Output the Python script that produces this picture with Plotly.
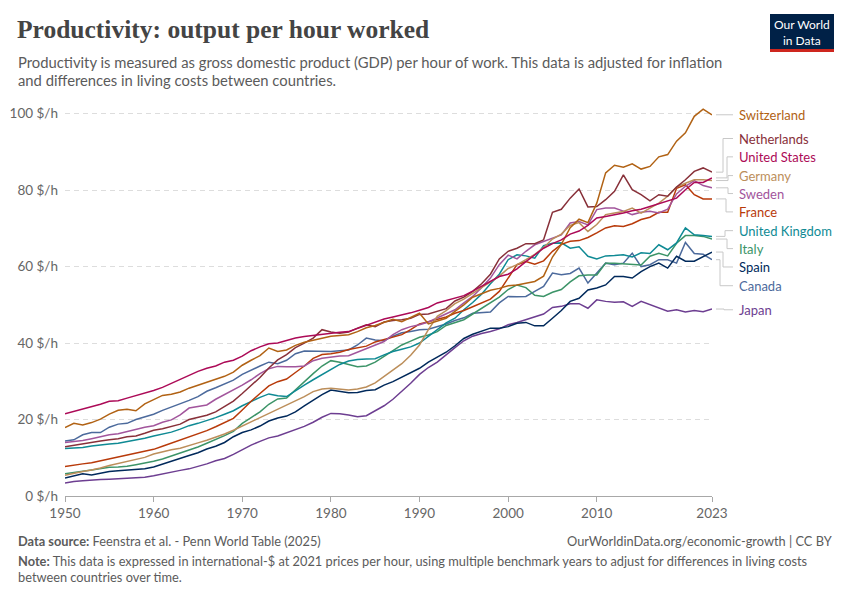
import plotly.graph_objects as go

years = list(range(1950, 2024))

countries = ["Switzerland", "Netherlands", "United States", "Germany", "Sweden", "France",
             "United Kingdom", "Italy", "Spain", "Canada", "Japan"]

colors = {
    "Switzerland": "#B16214",
    "Netherlands": "#883039",
    "United States": "#AC0A57",
    "Germany": "#BC8E5A",
    "Sweden": "#A2559C",
    "France": "#B83A0A",
    "United Kingdom": "#0F8A94",
    "Italy": "#3C9468",
    "Spain": "#00295B",
    "Canada": "#4C6A9C",
    "Japan": "#6D3E91",
}

switzerland = [17.9, 19.0, 18.6, 19.2, 20.1, 21.4, 22.4, 22.7, 22.3, 24.1,
               25.2, 26.3, 26.6, 27.2, 28.2, 29.0, 29.6, 30.4, 31.3, 32.4,
               34.2, 35.5, 36.7, 38.7, 37.8, 38.2, 39.4, 40.2, 40.8, 41.3,
               41.8, 42.0, 42.2, 43.0, 44.0, 44.6, 45.5, 46.2, 45.6, 46.8,
               47.8, 45.0, 45.8, 46.5, 48.3, 50.0, 52.0, 53.0, 53.8, 54.3,
               55.0, 55.2, 55.6, 56.1, 57.5, 62.5, 65.8, 70.2, 72.4, 71.5,
               76.6, 84.5, 86.5, 86.0, 86.9, 85.5, 86.2, 88.7, 89.3, 92.8,
               95.0, 99.3, 101.2, 99.7]

netherlands = [12.9, 13.3, 13.6, 14.0, 14.4, 14.7, 15.0, 15.5, 15.7, 16.4,
               17.2, 17.6, 18.2, 18.8, 20.0, 20.6, 21.1, 22.0, 23.4, 24.8,
               26.8, 29.0, 31.0, 33.5, 35.6, 37.0, 38.8, 40.0, 41.3, 43.5,
               42.9, 42.6, 42.9, 43.9, 44.8, 44.3, 45.5, 45.9, 46.1, 46.5,
               47.5, 47.6, 48.3, 49.0, 51.0, 52.0, 53.5, 55.5, 58.0, 62.0,
               64.0, 64.8, 66.0, 66.0, 67.0, 74.2, 75.0, 77.9, 80.3, 75.6,
               75.7, 77.5, 79.7, 84.0, 80.1, 78.8, 77.2, 78.8, 78.4, 80.8,
               82.7, 84.9, 85.8, 84.7]

united_states = [21.5, 22.1, 22.7, 23.5, 24.0, 24.8, 24.9, 25.6, 26.2, 27.0,
                 27.6, 28.4, 29.5, 30.4, 31.5, 32.6, 33.4, 34.0, 35.0, 35.5,
                 36.6, 38.0, 39.0, 39.8, 40.0, 40.7, 41.3, 41.7, 42.0, 42.3,
                 42.6, 42.8, 43.0, 43.8, 44.8, 45.6, 46.3, 46.8, 47.3, 47.9,
                 48.6, 49.3, 50.5, 51.1, 51.6, 52.4, 53.6, 54.8, 56.0, 57.4,
                 58.0, 59.4, 61.3, 63.0, 64.8, 66.0, 67.0, 68.5, 69.3, 70.8,
                 72.7, 73.1, 73.5, 74.0, 74.6, 75.0, 75.7, 76.4, 77.2, 77.9,
                 80.1, 82.0, 82.0, 83.2]

germany = [5.4, 6.0, 6.4, 6.8, 7.3, 8.0, 8.5, 9.0, 9.5, 10.1,
           11.0, 11.6, 12.1, 12.5, 13.3, 13.9, 14.6, 15.3, 16.2, 17.2,
           18.3, 19.3, 20.5, 21.6, 22.6, 23.6, 24.9, 26.0, 27.3, 28.0,
           28.2, 28.0, 27.7, 28.0, 28.5, 29.6, 31.2, 32.8, 34.6, 36.8,
           39.5, 43.5, 47.0, 48.5, 50.3, 51.5, 53.0, 54.4, 56.0, 57.5,
           59.5, 60.5, 61.8, 63.2, 65.0, 67.2, 68.5, 70.8, 71.5, 69.2,
           71.0, 73.6, 74.0, 74.4, 75.3, 74.0, 75.3, 76.6, 78.4, 80.8,
           81.8, 82.7, 82.7, 82.5]

sweden = [14.0, 14.2, 14.5, 15.0, 15.5, 16.0, 16.3, 16.9, 17.3, 18.0,
          18.4, 19.3, 19.9, 21.2, 23.0, 23.5, 23.8, 25.3, 26.5, 27.6,
          29.0, 30.4, 32.0, 33.3, 33.9, 33.8, 33.8, 34.0, 35.4, 36.0,
          36.3, 36.6, 36.7, 37.6, 38.5, 39.3, 40.4, 42.2, 43.5, 44.3,
          44.8, 45.5, 46.5, 47.5, 48.7, 50.5, 52.2, 54.5, 57.0, 60.5,
          63.0, 62.0, 64.0, 65.7, 66.6, 67.5, 68.3, 71.4, 71.8, 70.9,
          74.9, 75.3, 75.3, 74.5, 73.6, 74.2, 74.5, 74.0, 75.0, 79.0,
          81.0, 82.5, 81.2, 80.6]

france = [7.7, 8.1, 8.4, 8.7, 9.2, 9.6, 10.2, 10.7, 11.2, 11.6,
          12.2, 13.0, 13.8, 14.6, 15.5, 16.3, 17.1, 18.1, 19.1, 20.3,
          22.5, 24.8, 26.8, 28.8, 29.9, 30.6, 32.3, 34.0, 36.0, 37.0,
          37.2, 37.6, 38.3, 38.7, 39.2, 40.3, 41.0, 41.5, 42.2, 43.5,
          45.0, 45.6, 46.3, 46.8, 47.8, 48.5, 49.5, 50.5, 51.5, 53.5,
          57.0, 60.5, 61.3, 60.6, 61.5, 64.0, 65.8, 66.6, 66.8, 67.6,
          68.8, 70.1, 70.7, 70.5, 71.2, 72.3, 72.9, 74.2, 74.2, 80.5,
          81.4, 78.8, 77.7, 77.7]

united_kingdom = [12.4, 12.5, 12.7, 13.1, 13.4, 13.6, 13.8, 14.2, 14.6, 15.1,
                  15.7, 16.1, 16.7, 17.5, 18.4, 19.0, 19.7, 20.5, 21.4, 22.3,
                  23.6, 24.8, 25.8, 26.7, 26.2, 26.0, 27.6, 29.0, 30.4, 31.8,
                  33.0, 34.4, 35.3, 35.7, 35.8, 35.9, 36.9, 37.8, 38.4, 39.0,
                  40.0, 41.8, 43.5, 45.3, 46.5, 48.7, 50.6, 52.8, 55.5, 58.0,
                  61.8, 63.1, 62.8, 62.2, 65.5, 66.1, 66.2, 64.8, 65.2, 62.7,
                  62.0, 62.8, 62.9, 63.1, 62.5, 63.6, 63.4, 65.7, 64.4, 66.2,
                  70.1, 68.3, 68.1, 67.9]

italy = [5.8, 6.2, 6.5, 6.8, 7.1, 7.5, 7.6, 7.8, 8.2, 8.6,
         9.1, 9.7, 10.5, 11.3, 11.9, 12.8, 13.8, 14.7, 15.8, 16.9,
         19.0, 20.5, 22.0, 24.0, 25.4, 25.6, 27.8, 29.8, 32.0, 34.0,
         35.4, 35.0, 34.3, 33.8, 34.0, 35.0, 36.5, 38.0, 39.5, 40.5,
         41.5, 42.1, 43.0, 44.6, 45.4, 46.1, 47.6, 49.0, 50.4, 52.0,
         54.0, 55.2, 54.5, 52.5, 52.2, 53.3, 54.0, 56.0, 57.6, 57.8,
         57.8, 60.9, 60.9, 60.7, 60.5, 60.4, 62.7, 63.5, 62.8, 66.1,
         68.1, 68.1, 67.9, 67.2]

spain = [4.7, 5.2, 5.8, 5.5, 6.0, 6.4, 6.6, 6.8, 7.0, 7.1,
         7.6, 8.4, 9.1, 9.8, 10.6, 11.3, 12.3, 13.0, 14.0, 15.5,
         16.6, 17.3, 18.3, 19.6, 20.4, 20.9, 22.0, 23.6, 25.1, 26.5,
         27.7, 27.3, 27.0, 27.1, 27.6, 27.8, 29.0, 29.9, 31.0, 32.3,
         33.4, 35.0, 36.2, 37.6, 39.3, 41.2, 42.3, 43.2, 43.9, 43.9,
         44.3, 45.2, 45.4, 44.5, 44.5, 46.5, 48.5, 50.9, 51.7, 53.9,
         54.4, 55.2, 57.4, 57.4, 57.0, 58.7, 60.0, 60.9, 59.6, 62.7,
         61.4, 61.4, 62.7, 63.8]

canada = [14.4, 14.7, 16.0, 16.6, 16.6, 18.0, 18.8, 19.0, 20.0, 20.6,
          21.4, 22.4, 23.2, 24.0, 25.0, 26.0, 27.4, 28.3, 29.2, 30.3,
          31.8, 33.0, 34.0, 35.0, 34.6, 35.5, 37.2, 37.9, 37.9, 37.8,
          37.8, 38.0, 38.2, 39.5, 41.3, 40.8, 40.6, 41.8, 42.7, 43.0,
          43.5, 43.6, 44.3, 45.0, 45.9, 46.6, 47.8, 48.0, 48.1, 50.5,
          52.2, 52.1, 52.2, 53.5, 54.8, 58.3, 57.9, 58.2, 59.6, 55.7,
          58.3, 60.9, 60.5, 60.9, 63.5, 60.0, 60.5, 61.8, 61.8, 60.9,
          66.3, 63.4, 63.2, 61.8]

japan = [3.4, 3.8, 4.0, 4.2, 4.3, 4.4, 4.5, 4.5, 4.7, 4.9,
         5.3, 5.8, 6.2, 6.7, 7.1, 7.7, 8.4, 9.2, 9.8, 10.9,
         12.2, 13.3, 14.3, 15.2, 15.7, 16.5, 17.3, 18.2, 19.3, 20.6,
         21.6, 21.5, 21.2, 20.7, 21.0, 22.3, 23.6, 25.3, 27.3, 29.5,
         31.8, 33.6, 35.0, 37.0, 38.8, 40.6, 41.8, 42.5, 43.0, 43.7,
         44.8, 45.4, 46.2, 46.9, 47.6, 49.3, 49.6, 50.3, 50.3, 49.1,
         51.3, 50.9, 50.7, 50.8, 49.6, 50.9, 50.0, 49.1, 48.3, 48.7,
         48.1, 48.5, 48.2, 48.9]

series = {
    "Switzerland": switzerland,
    "Netherlands": netherlands,
    "United States": united_states,
    "Germany": germany,
    "Sweden": sweden,
    "France": france,
    "United Kingdom": united_kingdom,
    "Italy": italy,
    "Spain": spain,
    "Canada": canada,
    "Japan": japan,
}

y_tickvals = [0, 20, 40, 60, 80, 100]
y_ticktext = ["0 $/h", "20 $/h", "40 $/h", "60 $/h", "80 $/h", "100 $/h"]
x_tickvals = [1950, 1960, 1970, 1980, 1990, 2000, 2010, 2023]

# label placement (in axis units) and connector elbow (pixels) -- layout only
label_y = {
    "Switzerland": 99.7, "Netherlands": 93.5, "United States": 88.7, "Germany": 83.8,
    "Sweden": 79.1, "France": 74.3, "United Kingdom": 69.4, "Italy": 64.7,
    "Spain": 59.9, "Canada": 55.0, "Japan": 48.7,
}
elbow_px = {
    "Switzerland": 724, "Netherlands": 723, "United States": 727, "Germany": 728,
    "Sweden": 728, "France": 726, "United Kingdom": 725, "Italy": 727,
    "Spain": 723, "Canada": 720, "Japan": 724,
}

# page body has an 8px margin: design in reference pixels, then offset
OFF = 8
W, H = 850 - 2 * OFF, 600 - 2 * OFF
L, R = 65 - OFF, 712 - OFF
T, B = 106 - OFF, 496 - OFF


def px_x(px):
    return (px - OFF - L) / (R - L)


def px_y(py):
    return (B - (py - OFF)) / (B - T)


fig = go.Figure()

draw_order = ["Japan", "Canada", "Spain", "Italy", "United Kingdom", "France",
              "Sweden", "Germany", "Netherlands", "Switzerland", "United States"]
for c in draw_order:
    fig.add_trace(go.Scatter(
        x=years, y=series[c], mode="lines", name=c,
        line=dict(color=colors[c], width=1.5),
        showlegend=False, hoverinfo="skip", cliponaxis=False,
    ))

shapes = []
annotations = []

for c in countries:
    last = series[c][-1]
    ly = label_y[c]
    ex = px_x(elbow_px[c])
    shapes.append(dict(
        type="path", xref="paper", yref="y",
        path=f"M {px_x(716)},{last} L {ex},{last} L {ex},{ly} L {px_x(733)},{ly}",
        line=dict(color="#c8c8c8", width=1),
    ))
    annotations.append(dict(
        xref="paper", yref="y", x=px_x(737), y=ly, text=c,
        showarrow=False, xanchor="left", yanchor="middle",
        font=dict(family="Lato", size=13, color=colors[c]),
    ))

# Title & subtitle
annotations.append(dict(
    xref="paper", yref="paper", x=px_x(15), y=px_y(29),
    text="<b>Productivity: output per hour worked</b>", showarrow=False,
    xanchor="left", yanchor="middle",
    font=dict(family="Liberation Serif", size=25.5, color="#444444"),
))
annotations.append(dict(
    xref="paper", yref="paper", x=px_x(16), y=px_y(62),
    text="Productivity is measured as gross domestic product (GDP) per hour of work. This data is adjusted for inflation",
    showarrow=False, xanchor="left", yanchor="middle",
    font=dict(family="Lato", size=14.8, color="#5b5b5b"),
))
annotations.append(dict(
    xref="paper", yref="paper", x=px_x(16), y=px_y(80),
    text="and differences in living costs between countries.",
    showarrow=False, xanchor="left", yanchor="middle",
    font=dict(family="Lato", size=14.8, color="#5b5b5b"),
))

# Footer
annotations.append(dict(
    xref="paper", yref="paper", x=px_x(16), y=px_y(541),
    text="<b>Data source:</b> Feenstra et al. - Penn World Table (2025)",
    showarrow=False, xanchor="left", yanchor="middle",
    font=dict(family="Lato", size=12.8, color="#5b5b5b"),
))
annotations.append(dict(
    xref="paper", yref="paper", x=px_x(834), y=px_y(541),
    text="OurWorldinData.org/economic-growth | CC BY",
    showarrow=False, xanchor="right", yanchor="middle",
    font=dict(family="Lato", size=12.8, color="#5b5b5b"),
))
annotations.append(dict(
    xref="paper", yref="paper", x=px_x(16), y=px_y(561),
    text="<b>Note:</b> This data is expressed in international-$ at 2021 prices per hour, using multiple benchmark years to adjust for differences in living costs",
    showarrow=False, xanchor="left", yanchor="middle",
    font=dict(family="Lato", size=12.8, color="#5b5b5b"),
))
annotations.append(dict(
    xref="paper", yref="paper", x=px_x(16), y=px_y(577),
    text="between countries over time.",
    showarrow=False, xanchor="left", yanchor="middle",
    font=dict(family="Lato", size=12.8, color="#5b5b5b"),
))

# Logo
shapes.append(dict(type="rect", xref="paper", yref="paper",
                   x0=px_x(770), x1=px_x(834), y0=px_y(49), y1=px_y(14),
                   fillcolor="#002147", line=dict(width=0)))
shapes.append(dict(type="rect", xref="paper", yref="paper",
                   x0=px_x(770), x1=px_x(834), y0=px_y(52), y1=px_y(49),
                   fillcolor="#CE261E", line=dict(width=0)))
annotations.append(dict(
    xref="paper", yref="paper", x=px_x(802), y=px_y(32),
    text="Our World<br>in Data", showarrow=False,
    xanchor="center", yanchor="middle", align="center",
    font=dict(family="Lato", size=12, color="#ffffff"),
))

fig.update_layout(
    width=W, height=H,
    margin=dict(l=L, r=W - R, t=T, b=H - B, pad=0, autoexpand=False),
    paper_bgcolor="white", plot_bgcolor="white",
    font=dict(family="Lato", color="#666666"),
    shapes=shapes, annotations=annotations,
    xaxis=dict(
        range=[1950, 2023], tickmode="array", tickvals=x_tickvals,
        showgrid=False, zeroline=False, showline=True, linecolor="#a8a8a8", linewidth=1,
        ticks="outside", ticklen=5, tickcolor="#a8a8a8", automargin=False,
        tickfont=dict(family="Lato", size=13.5, color="#666666"),
    ),
    yaxis=dict(
        range=[0, 102], tickmode="array", tickvals=y_tickvals, ticktext=y_ticktext,
        showgrid=True, gridcolor="#dddddd", griddash="5px,4px", gridwidth=1,
        zeroline=False, showline=False, ticks="", automargin=False,
        tickfont=dict(family="Lato", size=13.5, color="#666666"),
        ticklabelstandoff=6,
    ),
)

fig.write_html("out.html")
